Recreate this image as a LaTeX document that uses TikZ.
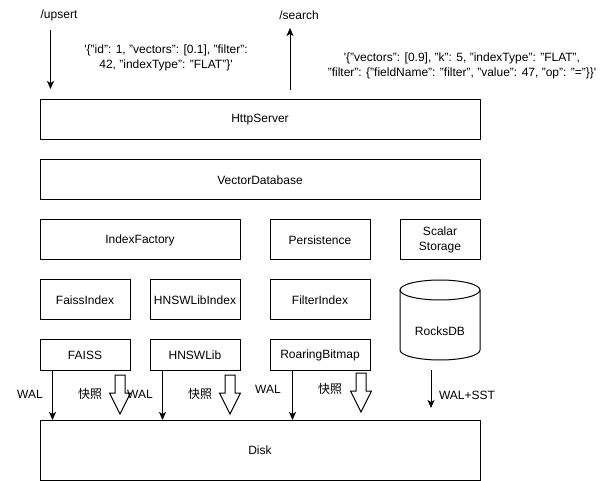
\documentclass[tikz,border=0pt]{standalone}
\usepackage{fontspec}
\setmainfont{Liberation Sans}
\newfontfamily\cjk{Noto Sans CJK SC}
\usepackage{tikz}
\usetikzlibrary{positioning, arrows.meta}

\begin{document}
\begin{tikzpicture}
[
x=1pt, y=-1pt,
font=\fontsize{12pt}{14.4pt}\selectfont,
box-a/.style={rectangle, draw, line width=1pt, inner sep=0pt, outer sep=0pt, minimum height=40pt, align=center},
box-b/.style={box-a, minimum height=30pt},
text-a/.style={inner sep=0pt, align=center},
wal/.style={-{Stealth[length=8pt, width=7pt, inset=2pt]}, line width=1pt},
snap/.style={draw, line width=1pt, line join=miter}
]

\useasboundingbox (0,0) rectangle (611,481);

\node (http)       [box-a, minimum width=440pt] at (260,120)                         {HttpServer};
\node (vdb)        [box-a, minimum width=440pt, below       = 20pt of http]          {VectorDatabase};
\node (factory)    [box-a, minimum width=200pt, below right = 20pt and 0pt of vdb.south west] {IndexFactory};
\node (persist)    [box-a, minimum width=100pt, right       = 30pt of factory]       {Persistence};
\node (scalar)     [box-a, minimum width=80pt,  right       = 30pt of persist]       {Scalar\\Storage};
\node (faissidx)   [box-a, minimum width=90pt,  below right = 20pt and 0pt of factory.south west] {FaissIndex};
\node (hnswidx)    [box-a, minimum width=90pt,  below left  = 20pt and 0pt of factory.south east] {HNSWLibIndex};
\node (filteridx)  [box-a, minimum width=100pt, below       = 20pt of persist]       {FilterIndex};
\node (faiss)      [box-b, minimum width=90pt,  below       = 20pt of faissidx]      {FAISS};
\node (hnswlib)    [box-b, minimum width=90pt,  below       = 20pt of hnswidx]       {HNSWLib};
\node (roaring)    [box-b, minimum width=100pt, below       = 20pt of filteridx]     {RoaringBitmap};
\node (disk)       [box-a, minimum width=440pt, minimum height=60pt, below right = 50pt and 0pt of faiss.south west] {Disk};
\node (rocksdb)    [minimum width=80pt, minimum height=80pt, inner sep=0pt, outer sep=0pt] at (440,320) {};
\node (rocksdb-lb) [text-a] at ([yshift=-11pt]rocksdb.center) {RocksDB};

% rocksdb cylinder
\draw [line width=1pt] ([yshift=-10pt]rocksdb.north west) -- ([yshift=10pt]rocksdb.south west)
  arc [start angle=180, end angle=360, x radius=40pt, y radius=10pt] -- ([yshift=-10pt]rocksdb.north east);
\draw [line width=1pt] ([yshift=-10pt]rocksdb.north) ellipse [x radius=40pt, y radius=10pt];

% requests
\node (upsert)     [text-a] at (59,15)  {/upsert};
\node (search)     [text-a] at (299,15) {/search};
\node (upsert-req) [text-a] at (166,58) {\textquotesingle\{"id": 1, "vectors": [0.1], "filter":\\42, "indexType": "FLAT"\}\textquotesingle};
\node (search-req) [text-a] at (462,66) {\textquotesingle\{"vectors": [0.9], "k": 5, "indexType": "FLAT",\\"filter": \{"fieldName": "filter", "value": 47, "op": "="\}\}\textquotesingle};
\draw [wal] ([xshift=10.5pt, yshift=70pt]http.north west) -- ++(0,59);
\draw [wal] ([xshift=250pt, yshift=10pt]http.north west) -- ++(0,-62);

% persistence to disk
\draw [wal] ([xshift=12.5pt]faiss.south west)   -- ([xshift=12.5pt]faiss.south west |- disk.north);
\draw [wal] ([xshift=12.5pt]hnswlib.south west) -- ([xshift=12.5pt]hnswlib.south west |- disk.north);
\draw [wal] ([xshift=22.5pt]roaring.south west) -- ([xshift=22.5pt]roaring.south west |- disk.north);
\draw [wal] ([xshift=-9pt, yshift=-10pt]rocksdb.south) -- ++(0,38);
\draw [snap] ([xshift=-15pt, yshift=-5pt]faiss.south east)   -- ++(0,18) -- ++(-5.5,0) -- ++(10.5,21) -- ++(10.5,-21) -- ++(-5.5,0) -- ++(0,-18) -- cycle;
\draw [snap] ([xshift=-15pt, yshift=-5pt]hnswlib.south east) -- ++(0,18) -- ++(-5.5,0) -- ++(10.5,21) -- ++(10.5,-21) -- ++(-5.5,0) -- ++(0,-18) -- cycle;
\draw [snap] ([xshift=-14pt, yshift=-3pt]roaring.south east) -- ++(0,18) -- ++(-5.5,0) -- ++(10.5,21) -- ++(10.5,-21) -- ++(-5.5,0) -- ++(0,-18) -- cycle;

\node (wal-1)  [text-a] at (30,394)  {WAL};
\node (snap-1) [text-a] at (90,394)  {\cjk 快照};
\node (wal-2)  [text-a] at (140,394) {WAL};
\node (snap-2) [text-a] at (200,394) {\cjk 快照};
\node (wal-3)  [text-a] at (268,389) {WAL};
\node (snap-3) [text-a] at (330,389) {\cjk 快照};
\node (wal-4)  [text-a] at (467,395) {WAL+SST};

\end{tikzpicture}
\end{document}
